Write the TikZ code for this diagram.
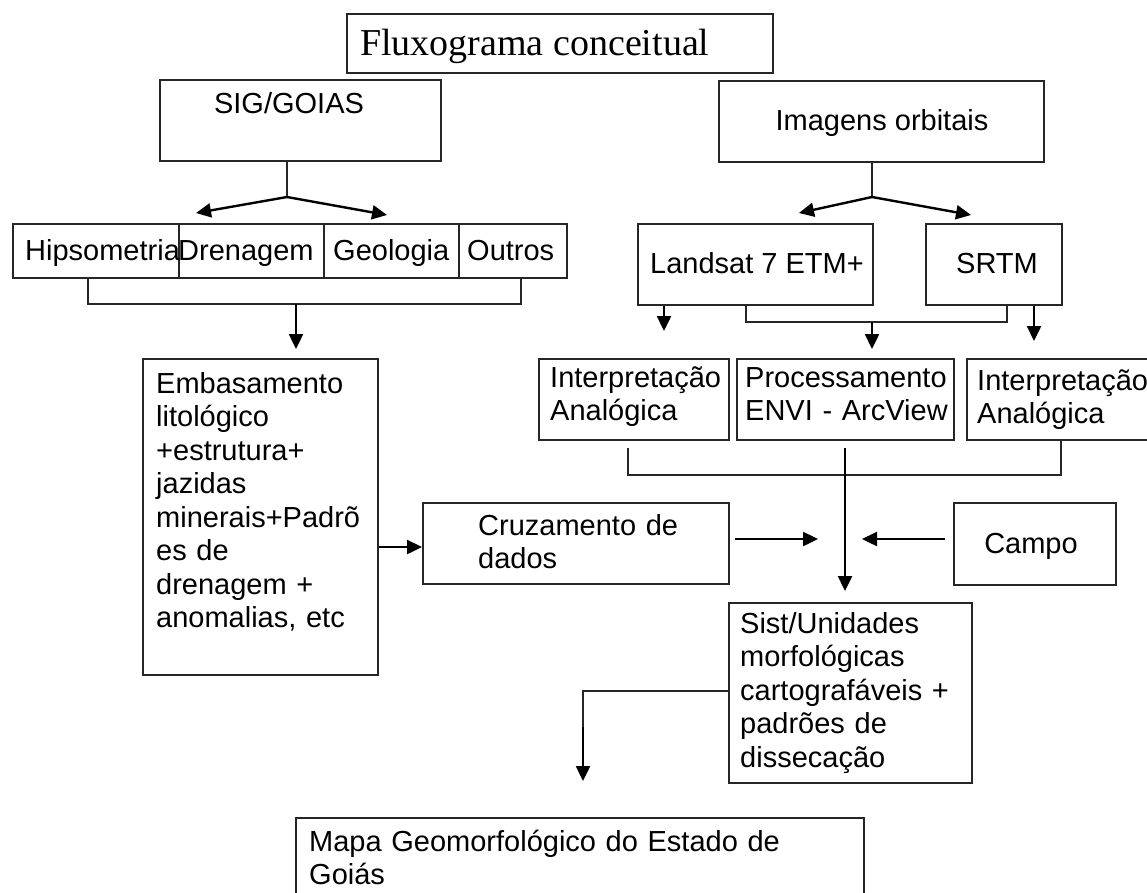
\documentclass[tikz,border=0pt]{standalone}
\usepackage{fontspec}
\setmainfont{Liberation Sans}
\newfontfamily\serifT{Liberation Serif}
\usetikzlibrary{arrows.meta}
\tikzset{
 box/.style={draw=black!85, line width=1.6pt, inner sep=0pt, anchor=north west},
 txt/.style={inner sep=0pt, font=\fontsize{29}{33.5}\selectfont, anchor=base west, align=left, text width=600pt},
 ctxt/.style={inner sep=0pt, font=\fontsize{29}{33.5}\selectfont, anchor=base},
 link/.style={draw=black!85, line width=1.5pt},
 arr/.style={draw=black, line width=2.4pt, -{Triangle[length=15pt,width=14pt]}},
}
\begin{document}
\begin{tikzpicture}[x=1pt,y=-1pt]
\useasboundingbox (0,0) rectangle (1147,892);
\fill[white] (0,0) rectangle (1147,892);

% boxes
\node[box, minimum width=426pt, minimum height=59pt] (title) at (346,13) {};
\node[box, minimum width=281pt, minimum height=81pt] (sig) at (159,79) {};
\node[box, minimum width=325pt, minimum height=81pt] (img) at (718,80) {};
\node[box, minimum width=166pt, minimum height=54pt] (hip) at (12,223) {};
\node[box, minimum width=145pt, minimum height=54pt] (dren) at (178,223) {};
\node[box, minimum width=135pt, minimum height=54pt] (geo) at (323,223) {};
\node[box, minimum width=108pt, minimum height=54pt] (out) at (458,223) {};
\node[box, minimum width=235pt, minimum height=81pt] (land) at (637,223) {};
\node[box, minimum width=136pt, minimum height=81pt] (srtm) at (925,223) {};
\node[box, minimum width=190pt, minimum height=81pt] (int1) at (538,358) {};
\node[box, minimum width=217pt, minimum height=81pt] (proc) at (736,358) {};
\node[box, minimum width=200pt, minimum height=81pt] (int2) at (966,358) {};
\node[box, minimum width=235pt, minimum height=316pt] (emb) at (142,358) {};
\node[box, minimum width=306pt, minimum height=81pt] (cruz) at (422,502) {};
\node[box, minimum width=162pt, minimum height=82pt] (campo) at (953,502) {};
\node[box, minimum width=243pt, minimum height=180pt] (sist) at (728,602) {};
\node[box, minimum width=568pt, minimum height=100pt] (mapa) at (295,817) {};

% texts
\node[anchor=base west, inner sep=0pt, font=\serifT\fontsize{38}{40}\selectfont] (titleT) at (360,55) {Fluxograma conceitual};
\node[ctxt] (sigT) at (289,113) {SIG/GOIAS};
\node[ctxt] (imgT) at (882,130) {Imagens orbitais};
\node[txt] (hipT) at (25,260) {Hipsometria};
\node[txt] (drenT) at (178,260) {Drenagem};
\node[txt] (geoT) at (333,260) {Geologia};
\node[txt] (outT) at (467,260) {Outros};
\node[ctxt] (landT) at (757,273) {Landsat 7 ETM+};
\node[ctxt] (srtmT) at (997,273) {SRTM};
\node[txt] (int1T) at (550,387) {Interpretação\\Analógica};
\node[txt] (procT) at (745,387) {Processamento\\ENVI - ArcView};
\node[txt] (int2T) at (977,390) {Interpretação\\Analógica};
\node[txt] (embT) at (156,393) {Embasamento\\litológico\\+estrutura+\\jazidas\\minerais+Padrõ\\es de\\drenagem +\\anomalias, etc};
\node[txt] (cruzT) at (478,535) {Cruzamento de\\dados};
\node[ctxt] (campoT) at (1031,553) {Campo};
\node[txt] (sistT) at (740,633) {Sist/Unidades\\morfológicas\\cartografáveis +\\padrões de\\dissecação};
\node[txt] (mapaT) at (309,851) {Mapa Geomorfológico do Estado de\\Goiás};

% coordinates
\coordinate (sigJ) at (287,197);
\coordinate (sigL) at (196,213);
\coordinate (sigR) at (387,215);
\coordinate (imgJ) at (872,197);
\coordinate (imgL) at (799,213);
\coordinate (imgR) at (971,215);
\coordinate (rowB) at (296,304);
\coordinate (landB) at (872,322);
\coordinate (cruzTip) at (818,539);
\coordinate (campoTip) at (862,539);
\coordinate (sistE) at (583,727);

% SIG branches
\draw[link] (sig.south -| sigJ) -- (sigJ);
\draw[arr] (sigJ) -- (sigL);
\draw[arr] (sigJ) -- (sigR);
% row bracket
\draw[link] (hip.south -| 88,0) -- (88,304) -- (521,304) -- (out.south -| 521,0);
\draw[arr] (rowB) -- (296,349);

% Imagens branches
\draw[link] (img.south -| imgJ) -- (imgJ);
\draw[arr] (imgJ) -- (imgL);
\draw[arr] (imgJ) -- (imgR);
\draw[arr] (land.south -| 664,0) -- (664,331);
\draw[link] (land.south -| 746,0) -- (746,322) -- (1007,322) -- (srtm.south -| 1007,0);
\draw[arr] (landB) -- (872,349);
\draw[arr] (srtm.south -| 1034,0) -- (1034,341);

% lower bracket
\draw[link] (628,448) -- (628,475) -- (1061,475) -- (int2.south -| 1061,0);
\draw[arr, shorten >=11pt] (845,448) -- (sist.north -| 845,0);
\draw[arr] (735,539) -- (cruzTip);
\draw[arr] (945,539) -- (campoTip);
\draw[arr] (emb.east |- 0,547) -- (cruz.west |- 0,547);

% to map
\draw[link] (sist.west |- 0,691) -- (583,691) -- (sistE);
\draw[arr] (sistE) -- (583,781);
\end{tikzpicture}
\end{document}
